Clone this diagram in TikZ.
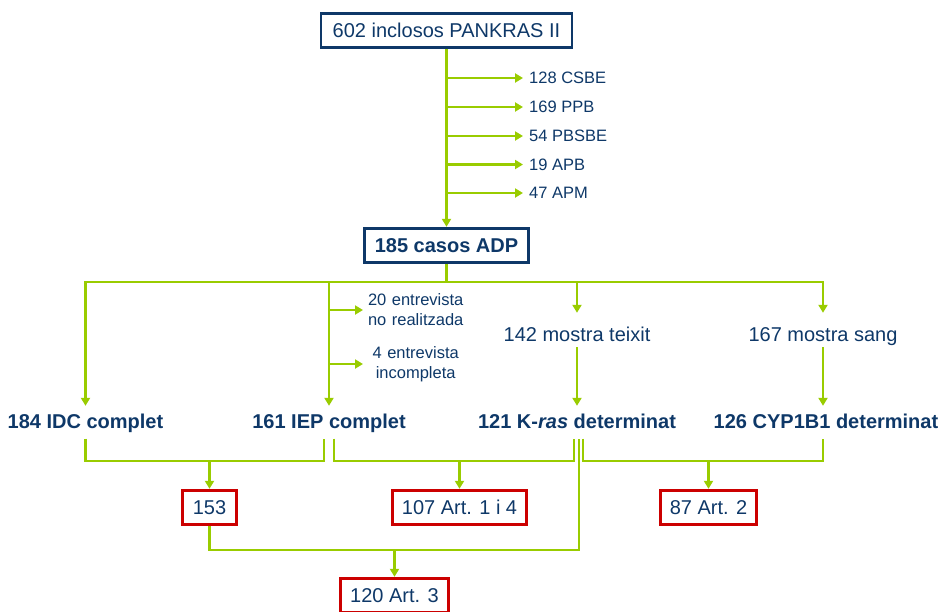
\documentclass[tikz,border=0pt]{standalone}
\usepackage{fontspec}
\setmainfont{Liberation Sans}
\usetikzlibrary{arrows.meta,positioning,calc}
\definecolor{verd-llima}{RGB}{153,204,0}
\definecolor{blau-fosc}{RGB}{14,56,104}
\definecolor{vermell}{RGB}{204,0,0}

\begin{document}
\begin{tikzpicture}[x=1pt, y=-1pt, >={Triangle[length=8pt,width=9pt]}, font=\fontsize{20}{24}\selectfont, text=blau-fosc,
	caixa/.style={draw=blau-fosc, line width=2.9pt, minimum height=34.5pt, inner sep=0pt},
	article/.style={draw=vermell, line width=2.9pt, minimum height=34.5pt, inner sep=0pt},
	exclos/.style={anchor=west, inner xsep=6pt, font=\fontsize{16.5}{20}\selectfont},
	entrevista/.style={anchor=west, inner xsep=4pt, text width=97pt, align=center, font=\fontsize{16.5}{20}\selectfont},
	mostra/.style={anchor=base, text height=26pt, text depth=4pt, inner ysep=2pt},
	grup/.style={anchor=base, font=\fontsize{20}{24}\selectfont\bfseries, text height=14.5pt, text depth=2pt, inner ysep=8pt},
	flux/.style={draw=verd-llima, line width=2.2pt}]
	\useasboundingbox (0,0) rectangle (939,611);
	\node[caixa, minimum width=251pt] (inclosos) at (446.5,30.5) {602 inclosos PANKRAS II};
	\node[caixa, minimum width=164pt, font=\fontsize{20}{24}\selectfont\bfseries] (adp) at (446.5,245.5) {185 casos ADP};
	\node[exclos] (csbe) at (523,78) {128 CSBE};
	\node[exclos] (ppb) at (523,107) {169 PPB};
	\node[exclos] (pbsbe) at (523,136) {54 PBSBE};
	\node[exclos] (apb) at (523,164.5) {19 APB};
	\node[exclos] (apm) at (523,193) {47 APM};
	\draw[flux, ->] (inclosos) -- (adp);
	\foreach \e in {csbe,ppb,pbsbe,apb,apm}
		\draw[flux, ->] (inclosos.south |- \e) -- (\e);

	\coordinate (bus) at (446.5,282);
	\node[grup] (idc) at (85.5,428.5) {184 IDC complet};
	\node[grup] (iep) at (329,428.5) {161 IEP complet};
	\node[mostra] (teixit) at (577,341) {142 mostra teixit};
	\node[mostra] (sang) at (823,341) {167 mostra sang};
	\node[grup] (kras) at (577,428.5) {121 K-\textit{ras} determinat};
	\node[grup] (cyp) at (826,428.5) {126 CYP1B1 determinat};
	\node[entrevista] (norealitzada) at (363,310) {20 entrevista\\no realitzada};
	\node[entrevista] (incompleta) at (363,364) {4 entrevista\\incompleta};
	\draw[flux] (adp) -- (bus);
	\draw[flux, ->] (bus) -| (idc.north);
	\draw[flux, ->] (bus) -| (iep.north);
	\draw[flux, ->] (bus) -| (teixit.north);
	\draw[flux, ->] (bus) -| (sang.north);
	\draw[flux, ->] (iep.north |- norealitzada) -- (norealitzada);
	\draw[flux, ->] (iep.north |- incompleta) -- (incompleta);
	\draw[flux, ->] (teixit) -- (teixit |- kras.north);
	\draw[flux, ->] (sang) -- (sang |- cyp.north);

	\node[article, minimum width=54pt] (n153) at (209.5,507.5) {153};
	\node[article, minimum width=134pt] (art14) at (459.5,507.5) {107 Art. 1 i 4};
	\node[article, minimum width=96pt] (art2) at (708.5,507.5) {87 Art. 2};
	\node[article, minimum width=108pt] (art3) at (394.5,595.5) {120 Art. 3};
	\coordinate (unio1) at (209.5,461);
	\coordinate (unio2) at (459.5,461);
	\coordinate (unio3) at (708.5,461);
	\coordinate (unio4) at (394.5,550);
	\draw[flux] (idc.south) |- (unio1) -| ([xshift=-5pt]iep.south);
	\draw[flux, ->] (unio1) -- (n153);
	\draw[flux] ([xshift=5pt]iep.south) |- (unio2) -| ([xshift=-3pt]kras.south);
	\draw[flux, ->] (unio2) -- (art14);
	\draw[flux] ([xshift=6pt]kras.south) |- (unio3) -| ([xshift=-3pt]cyp.south);
	\draw[flux, ->] (unio3) -- (art2);
	\draw[flux] (n153) |- (unio4) -| ([xshift=2pt]kras.south);
	\draw[flux, ->] (unio4) -- (art3);
\end{tikzpicture}
\end{document}
